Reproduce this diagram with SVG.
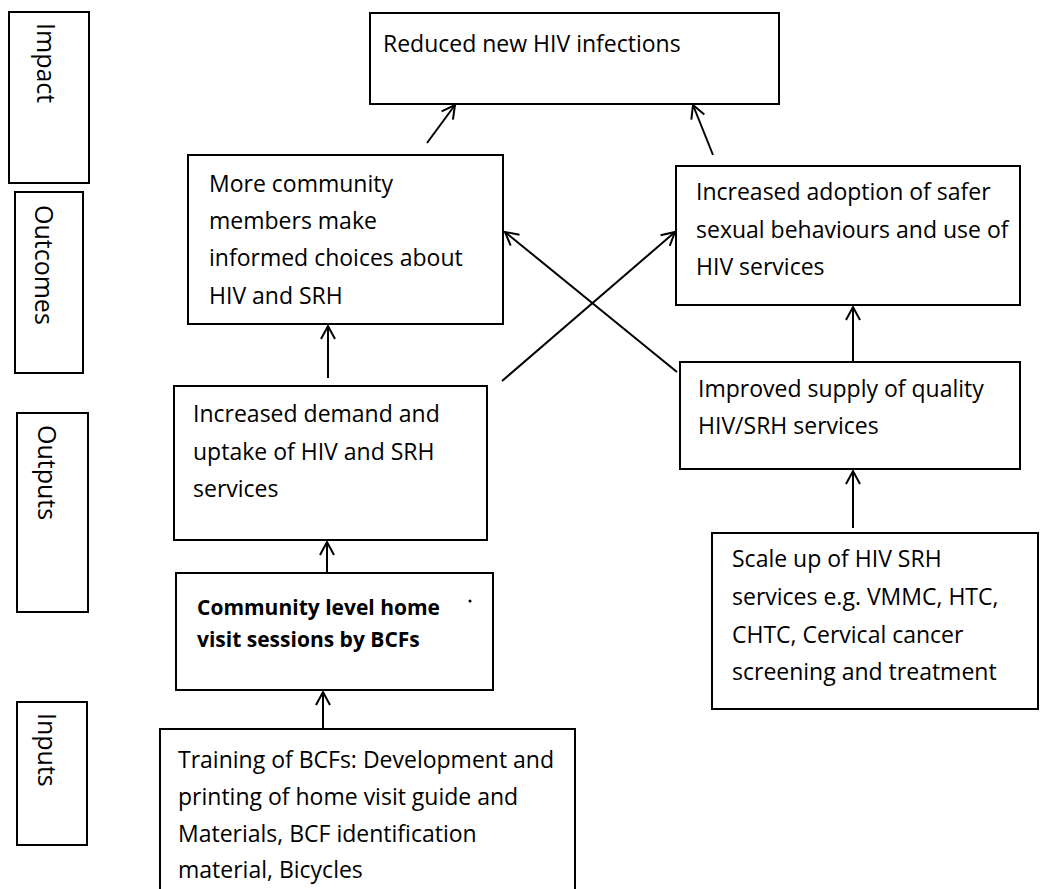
<svg xmlns="http://www.w3.org/2000/svg" width="1040" height="889" viewBox="0 0 1040 889">
<defs>
<style>
.box{fill:#fff;stroke:#000;stroke-width:2}
.t{font-family:"Open Sans","Noto Sans",sans-serif;font-size:23px;fill:#000}
.b{font-weight:bold;font-size:21px}
.lab{font-family:"Open Sans","Noto Sans",sans-serif;font-size:25px;fill:#000}
.c{stroke:#000;stroke-width:2;fill:none;marker-end:url(#ah)}
</style>
<marker id="ah" markerUnits="userSpaceOnUse" markerWidth="20" markerHeight="20" refX="0" refY="0" viewBox="-14 -10 16 20" orient="auto">
<path d="M-13,-7 L0,0 L-13,7" fill="none" stroke="#000" stroke-width="2"/>
</marker>
</defs>
<rect width="1040" height="889" fill="#fff"/>
<g id="label-impact"><rect class="box" x="9" y="12" width="80" height="171"/><text class="lab" transform="translate(37,23) rotate(90)">Impact</text></g>
<g id="label-outcomes"><rect class="box" x="15" y="192" width="68" height="181"/><text class="lab" transform="translate(35,205) rotate(90)">Outcomes</text></g>
<g id="label-outputs"><rect class="box" x="17" y="413" width="71" height="199"/><text class="lab" transform="translate(38,425) rotate(90)">Outputs</text></g>
<g id="label-inputs"><rect class="box" x="17" y="702" width="70" height="143"/><text class="lab" transform="translate(38,713) rotate(90)">Inputs</text></g>

<g id="impact"><rect class="box" x="370" y="13" width="409" height="91"/><text class="t" x="383" y="52">Reduced new HIV infections</text></g>
<g id="outcome-informed"><rect class="box" x="188" y="155" width="315" height="169"/>
<text class="t" x="209" y="192">More community</text><text class="t" x="209" y="229">members make</text><text class="t" x="209" y="266">informed choices about</text><text class="t" x="209" y="304">HIV and SRH</text></g>
<g id="outcome-adoption"><rect class="box" x="676" y="166" width="344" height="139"/>
<text class="t" x="696" y="200">Increased adoption of safer</text><text class="t" x="696" y="238">sexual behaviours and use of</text><text class="t" x="696" y="275">HIV services</text></g>
<g id="output-demand"><rect class="box" x="174" y="386" width="313" height="154"/>
<text class="t" x="193" y="422">Increased demand and</text><text class="t" x="193" y="460">uptake of HIV and SRH</text><text class="t" x="193" y="497">services</text></g>
<g id="output-supply"><rect class="box" x="680" y="362" width="340" height="107"/>
<text class="t" x="698" y="397">Improved supply of quality</text><text class="t" x="698" y="434">HIV/SRH services</text></g>
<g id="input-homevisit"><rect class="box" x="176" y="573" width="317" height="117"/>
<text class="t b" x="197" y="615">Community level home</text><text class="t b" x="197" y="647">visit sessions by BCFs</text><circle cx="470" cy="601" r="1.5" fill="#000"/></g>
<g id="input-scaleup"><rect class="box" x="712" y="533" width="326" height="176"/>
<text class="t" x="732" y="567">Scale up of HIV SRH</text><text class="t" x="732" y="605">services e.g. VMMC, HTC,</text><text class="t" x="732" y="643">CHTC, Cervical cancer</text><text class="t" x="732" y="680">screening and treatment</text></g>
<g id="input-training"><path class="box" d="M160,900 V729 H575 V900"/>
<text class="t" x="178" y="768">Training of BCFs: Development and</text><text class="t" x="178" y="805">printing of home visit guide and</text><text class="t" x="178" y="842">Materials, BCF identification</text><text class="t" x="178" y="878">material, Bicycles</text></g>

<g id="connectors">
<line class="c" x1="427" y1="143" x2="455" y2="105"/>
<line class="c" x1="713" y1="155" x2="693" y2="105"/>
<line class="c" x1="328" y1="378" x2="328" y2="326"/>
<line class="c" x1="677" y1="372" x2="505" y2="232"/>
<line class="c" x1="502" y1="381" x2="675" y2="232"/>
<line class="c" x1="853" y1="362" x2="853" y2="307"/>
<line class="c" x1="853" y1="528" x2="853" y2="471"/>
<line class="c" x1="327" y1="573" x2="327" y2="542"/>
<line class="c" x1="323" y1="729" x2="323" y2="692"/>
</g>
</svg>
